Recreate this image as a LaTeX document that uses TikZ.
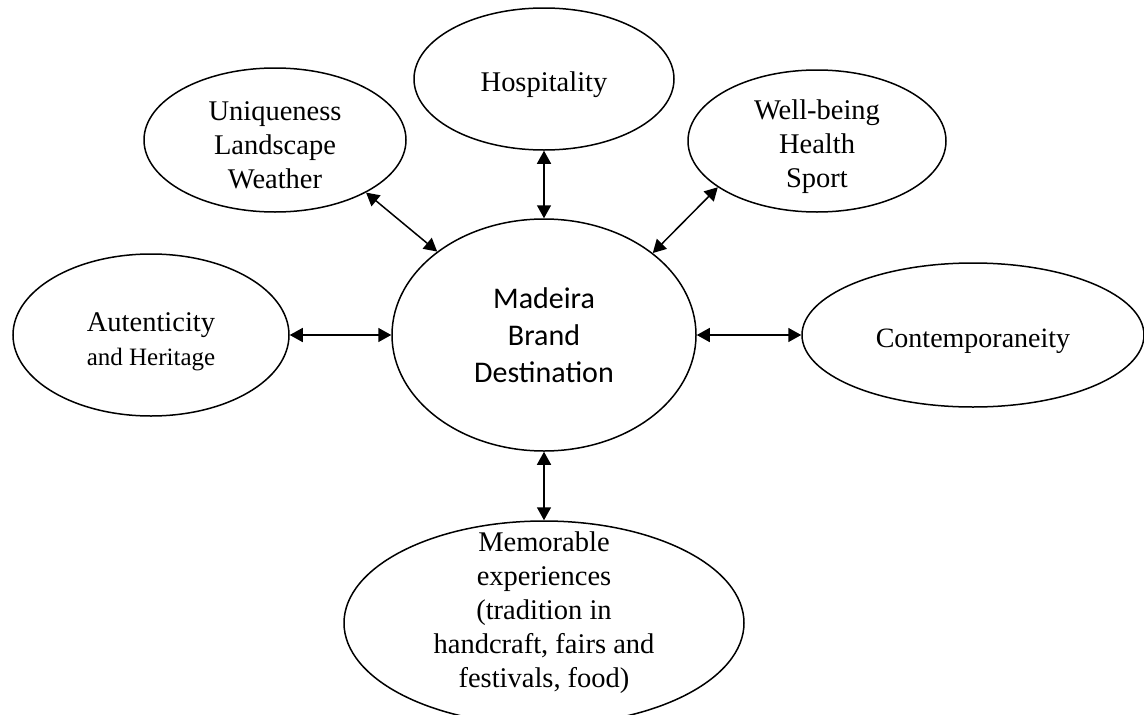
\documentclass[tikz,border=0pt]{standalone}
\usepackage{fontspec}
\setmainfont{Liberation Serif}
\newfontfamily\calibrifont{Carlito}
\usepackage{tikz}
\usetikzlibrary{positioning,%
  arrows.meta,%
  shapes.geometric,%
  calc
}

\begin{document}
\begin{tikzpicture}[x=1pt,y=-1pt,
    bubble/.style={ellipse, draw, line width=1.5pt, inner sep=0pt, align=center,
      font=\fontsize{28.5}{34}\selectfont},
    link/.style={{Triangle[length=13pt,width=14pt]}-{Triangle[length=13pt,width=14pt]}, line width=1.5pt}]
            \useasboundingbox (0,0) rectangle (1144,715);
            \clip (0,0) rectangle (1144,715);

            \node [bubble, minimum width=304, minimum height=232,
                   font=\calibrifont\fontsize{30}{37}\selectfont] (madeira) at (544,335) {Madeira\\Brand\\Destination};
            \node [bubble, text height=31pt, minimum width=260, minimum height=142] (hospitality) at (544,79) {Hospitality};
            \node [bubble, text height=97pt, minimum width=262, minimum height=144] (uniqueness) at (275,140) {Uniqueness\\Landscape\\Weather};
            \node [bubble, text height=93pt, text depth=0pt, minimum width=258, minimum height=142] (wellbeing) at (817,141) {Well-being\\Health\\Sport};
            \node [bubble, text height=67pt, minimum width=276, minimum height=162] (autenticity) at (151,335)
                  {Autenticity\\{\fontsize{25}{30}\selectfont and Heritage}};
            \node [bubble, text height=31pt, minimum width=342, minimum height=144,
                   font=\fontsize{28}{34}\selectfont] (contemporaneity) at (973,335) {Contemporaneity};
            \node [bubble, minimum width=400, minimum height=204] (memorable) at (544,623) {};
            \node [align=center, inner sep=0pt, font=\fontsize{28.5}{34}\selectfont] (memorabletext)
                  at ([yshift=10pt]memorable.center)
                  {Memorable\\experiences\\(tradition in\\handcraft, fairs and\\festivals, food)};

            \draw [link] (uniqueness.330) -- (madeira.142.5);
            \draw [link] (hospitality.south) -- (madeira.north);
            \draw [link] (wellbeing.205) -- (madeira.37);
            \draw [link] (autenticity.east) -- (madeira.west);
            \draw [link] (madeira.east) -- (contemporaneity.west);
            \draw [link] (madeira.south) -- (memorable.north);
        \end{tikzpicture}
\end{document}
